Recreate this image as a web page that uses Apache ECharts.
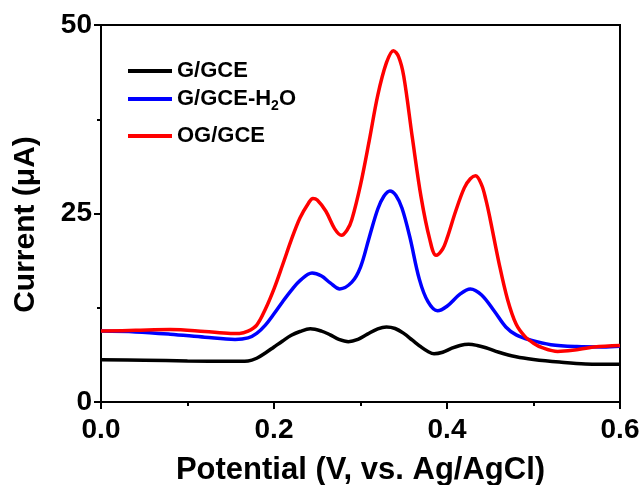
<!DOCTYPE html>
<html>
<head>
<meta charset="utf-8">
<script src="https://cdn.jsdelivr.net/npm/echarts@6/dist/echarts.min.js"></script>
<style>html,body{margin:0;padding:0;background:#fff;}#c{width:642px;height:485px;}</style>
</head>
<body>
<div id="c"></div>
<script>
var gGCE_x = [0,0.05,0.10,0.15,0.17,0.18,0.19,0.20,0.21,0.22,0.23,0.242,0.255,0.265,0.275,0.286,0.297,0.308,0.32,0.33,0.34,0.35,0.36,0.37,0.378,0.385,0.395,0.405,0.415,0.425,0.435,0.445,0.46,0.48,0.50,0.53,0.56,0.60];
var gGCE_y = [5.6,5.55,5.45,5.4,5.45,5.8,6.5,7.3,8.1,8.85,9.35,9.7,9.4,8.9,8.3,8.0,8.3,9.0,9.7,9.95,9.75,9.1,8.2,7.3,6.7,6.4,6.6,7.1,7.5,7.65,7.5,7.2,6.6,6.0,5.65,5.3,5.05,5.0];
var gGCEH2O_x = [0,0.04,0.08,0.12,0.155,0.17,0.18,0.19,0.20,0.21,0.22,0.23,0.244,0.255,0.265,0.276,0.29,0.30,0.31,0.32,0.327,0.334,0.341,0.348,0.357,0.368,0.378,0.389,0.40,0.415,0.427,0.44,0.455,0.468,0.48,0.497,0.52,0.55,0.58,0.60];
var gGCEH2O_y = [9.4,9.3,9.0,8.6,8.3,8.5,9.1,10.2,11.7,13.3,14.8,16.1,17.1,16.7,15.8,15.0,15.9,17.9,21.8,25.6,27.3,28.0,27.4,25.7,21.9,16.3,13.3,12.1,12.7,14.3,15.0,14.2,12.0,9.95,8.9,8.2,7.6,7.35,7.3,7.4];
var ogGCE_x = [0,0.04,0.08,0.12,0.15,0.16,0.17,0.18,0.19,0.20,0.21,0.22,0.23,0.24,0.245,0.25,0.26,0.27,0.278,0.285,0.29,0.30,0.31,0.32,0.33,0.338,0.344,0.35,0.36,0.37,0.38,0.3874,0.395,0.40,0.41,0.42,0.427,0.433,0.44,0.445,0.45,0.46,0.47,0.48,0.49,0.50,0.51,0.528,0.545,0.57,0.60];
var ogGCE_y = [9.4,9.5,9.6,9.35,9.1,9.1,9.4,10.2,12.3,15.0,18.2,21.5,24.4,26.4,27.0,26.8,25.3,23.0,22.1,22.9,24.2,28.8,34.6,40.7,45.0,46.6,45.8,43.2,35.0,27.2,21.6,19.45,20.3,21.7,25.3,28.4,29.6,30.0,28.8,26.8,24.2,18.5,13.6,10.3,8.7,7.8,7.2,6.7,6.85,7.3,7.5];
var xTicks = [0.0, 0.2, 0.4, 0.6];
var yTicks = [0, 25, 50];
var seriesNames = ['G/GCE', 'G/GCE-H2O', 'OG/GCE'];

function pairs(xs, ys){ return xs.map(function(x,i){ return [x, ys[i]]; }); }

var FONT = '"Liberation Sans", Arial, sans-serif';
var chart = echarts.init(document.getElementById('c'), null, {renderer:'canvas'});
function legendAt(name, top){
  return {
    data:[name], left:128, top:top, orient:'vertical', padding:0,
    icon:'rect', itemWidth:44, itemHeight:4, itemGap:0,
    textStyle:{fontFamily:FONT, fontWeight:'bold', fontSize:22, color:'#000',
      rich:{sub:{fontFamily:FONT, fontWeight:'bold', fontSize:14, color:'#000', verticalAlign:'bottom', padding:[14,0,0,0]}}},
    formatter:function(n){ return n === 'G/GCE-H2O' ? 'G/GCE-H{sub|2}O' : n; }
  };
}
var option = {
  backgroundColor:'#fff',
  animation:false,
  legend:[legendAt(seriesNames[0], 60), legendAt(seriesNames[1], 88), legendAt(seriesNames[2], 125)],
  grid:{left:101, right:22, top:25, bottom:83, outerBoundsMode:'none', containLabel:false, show:true, borderColor:'#000', borderWidth:2, backgroundColor:'transparent'},
  xAxis:{
    type:'value', min:xTicks[0], max:xTicks[xTicks.length-1], interval:0.2,
    name:'Potential (V, vs. Ag/AgCl)', nameLocation:'middle', nameGap:53,
    nameTextStyle:{fontFamily:FONT, fontWeight:'bold', fontSize:31, color:'#000'},
    axisLine:{show:true, lineStyle:{color:'#000', width:2}},
    axisTick:{show:true, inside:false, length:7, lineStyle:{color:'#000', width:2}},
    minorTick:{show:true, splitNumber:2, length:4, lineStyle:{color:'#000', width:2}},
    splitLine:{show:false},
    axisLabel:{fontFamily:FONT, fontWeight:'bold', fontSize:28, color:'#000', margin:14,
      formatter:function(v){ return v.toFixed(1); }}
  },
  yAxis:{
    type:'value', min:yTicks[0], max:yTicks[yTicks.length-1], interval:25,
    name:'Current (\u03bcA)', nameLocation:'middle', nameGap:60,
    nameTextStyle:{fontFamily:FONT, fontWeight:'bold', fontSize:30, color:'#000', padding:[0,22,0,0]},
    axisLine:{show:true, lineStyle:{color:'#000', width:2}},
    axisTick:{show:true, inside:false, length:7, lineStyle:{color:'#000', width:2}},
    minorTick:{show:true, splitNumber:2, length:4, lineStyle:{color:'#000', width:2}},
    splitLine:{show:false},
    axisLabel:{fontFamily:FONT, fontWeight:'bold', fontSize:28, color:'#000', margin:9}
  },
  series:[
    {name:seriesNames[0], type:'line', data:pairs(gGCE_x, gGCE_y), smooth:0.35, showSymbol:false, lineStyle:{color:'#000000', width:3.5}, itemStyle:{color:'#000000'}},
    {name:seriesNames[1], type:'line', data:pairs(gGCEH2O_x, gGCEH2O_y), smooth:0.35, showSymbol:false, lineStyle:{color:'#0000ff', width:3.5}, itemStyle:{color:'#0000ff'}},
    {name:seriesNames[2], type:'line', data:pairs(ogGCE_x, ogGCE_y), smooth:0.35, showSymbol:false, lineStyle:{color:'#ff0000', width:3.5}, itemStyle:{color:'#ff0000'}}
  ]
};
chart.setOption(option);
</script>
</body>
</html>
